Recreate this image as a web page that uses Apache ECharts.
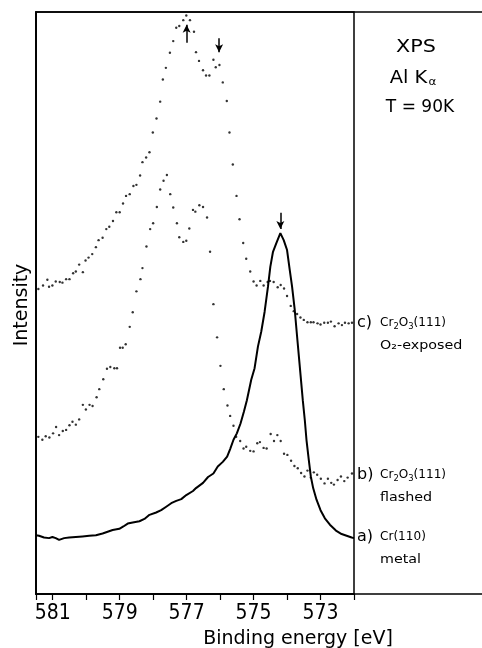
<!DOCTYPE html>
<html>
<head>
<meta charset="utf-8">
<style>
  html, body { margin: 0; padding: 0; background: #fff; }
  #chart { width: 482px; height: 648px; }
</style>
<script src="https://cdn.jsdelivr.net/npm/echarts@6/dist/echarts.min.js"></script>
</head>
<body>
<div id="chart"></div>
<script>
// Cr 2p3/2 XPS spectra: [binding energy (eV), intensity (arb. units)]
const metalCurve = [
  [581.5,10.1],[581.41,10.0],[581.26,9.7],[581.11,9.6],[581.01,9.8],[580.91,9.6],[580.81,9.3],
  [580.66,9.6],[580.51,9.7],[580.31,9.8],[580.11,9.9],[579.91,10.0],[579.71,10.1],[579.51,10.4],
  [579.36,10.7],[579.21,11.0],[579.01,11.2],[578.89,11.6],[578.76,12.1],[578.61,12.3],[578.41,12.5],
  [578.26,12.9],[578.11,13.6],[577.91,14.0],[577.76,14.4],[577.61,15.0],[577.46,15.6],[577.31,16.0],
  [577.16,16.3],[577.01,17.0],[576.81,17.7],[576.72,18.2],[576.51,19.1],[576.36,20.1],[576.20,20.7],
  [576.07,21.9],[575.92,22.7],[575.79,23.6],[575.70,24.9],[575.60,26.5],[575.50,27.6],[575.39,29.3],
  [575.29,31.3],[575.20,33.3],[575.07,36.8],[574.97,38.8],[574.87,42.5],[574.77,45.1],[574.67,48.5],
  [574.57,52.8],[574.50,56.2],[574.42,58.8],[574.32,60.3],[574.20,62.0],[574.10,60.8],[574.00,59.1],
  [573.92,55.7],[573.85,52.8],[573.77,48.8],[573.69,43.6],[573.62,39.1],[573.53,33.3],[573.47,29.9],
  [573.42,26.5],[573.35,23.0],[573.29,20.2],[573.22,18.2],[573.12,16.2],[573.00,14.4],[572.87,13.0],
  [572.72,11.9],[572.54,10.9],[572.37,10.3],[572.22,10.0],[572.07,9.7],[572.00,9.6]
];

const flashedPoints = [
  [581.43,27.0],[581.31,26.5],[581.21,27.1],[581.10,26.9],[580.99,27.6],[580.90,28.7],[580.81,27.3],
  [580.70,28.0],[580.60,28.2],[580.50,29.0],[580.41,29.6],[580.31,29.1],[580.21,30.0],[580.10,32.5],
  [580.01,31.7],[579.90,32.5],[579.81,32.3],[579.69,33.8],[579.61,35.2],[579.49,36.9],[579.38,38.7],
  [579.28,39.0],[579.16,38.8],[579.08,38.8],[578.99,42.3],[578.91,42.3],[578.82,42.9],[578.70,45.9],
  [578.61,48.4],[578.50,52.0],[578.38,54.1],[578.32,56.0],[578.20,59.7],[578.09,62.7],[578.00,63.7],
  [577.89,66.5],[577.79,69.5],[577.69,71.0],[577.59,72.0],[577.49,68.7],[577.40,66.4],[577.29,63.7],
  [577.22,61.3],[577.10,60.5],[577.01,60.7],[576.92,62.8],[576.81,66.0],[576.74,65.7],[576.62,66.8],
  [576.51,66.5],[576.39,64.7],[576.30,58.8],[576.20,49.8],[576.09,44.1],[575.99,39.2],[575.89,35.2],
  [575.78,32.4],[575.70,30.6],[575.60,28.9],[575.52,27.0],[575.40,26.3],[575.30,25.0],[575.22,25.3],
  [575.10,24.6],[575.00,24.5],[574.89,25.9],[574.81,26.1],[574.70,25.1],[574.61,25.0],[574.49,27.5],
  [574.39,26.3],[574.29,27.3],[574.19,26.3],[574.09,24.1],[573.99,23.9],[573.88,22.9],[573.78,22.0],
  [573.68,21.6],[573.58,20.8],[573.48,20.2],[573.39,21.2],[573.29,20.0],[573.20,20.9],[573.10,20.5],
  [572.99,19.8],[572.88,19.0],[572.78,19.8],[572.68,19.1],[572.60,18.8],[572.49,19.6],[572.39,20.2],
  [572.29,19.4],[572.19,20.0],[572.06,20.7]
];

const exposedPoints = [
  [581.43,52.4],[581.29,53.0],[581.16,54.0],[581.11,52.8],[581.01,53.0],[580.91,53.7],[580.79,53.6],
  [580.71,53.5],[580.60,54.1],[580.50,54.1],[580.39,55.1],[580.31,55.4],[580.21,56.6],[580.10,55.3],
  [580.02,57.3],[579.93,57.8],[579.82,58.4],[579.71,59.6],[579.63,60.8],[579.51,61.2],[579.40,62.7],
  [579.31,63.1],[579.20,64.1],[579.10,65.6],[579.00,65.6],[578.90,67.1],[578.81,68.4],[578.70,68.7],
  [578.59,70.1],[578.50,70.3],[578.39,71.9],[578.32,74.2],[578.21,75.0],[578.11,75.9],[578.01,79.3],
  [577.90,81.7],[577.79,84.6],[577.71,88.4],[577.62,90.4],[577.50,93.0],[577.40,95.0],[577.31,97.3],
  [577.22,97.6],[577.10,98.6],[577.01,99.4],[576.90,98.6],[576.78,96.6],[576.72,93.1],[576.63,91.6],
  [576.51,90.0],[576.42,89.1],[576.32,89.1],[576.20,91.8],[576.13,90.5],[576.02,90.9],[575.92,87.9],
  [575.80,84.7],[575.72,79.3],[575.62,73.8],[575.51,68.4],[575.42,64.4],[575.31,60.3],[575.22,57.6],
  [575.10,55.4],[575.00,53.7],[574.91,53.0],[574.80,53.8],[574.70,53.0],[574.58,53.6],[574.51,53.8],
  [574.40,53.6],[574.28,52.7],[574.19,53.1],[574.09,52.5],[574.00,51.2],[573.89,49.5],[573.80,48.6],
  [573.70,48.1],[573.60,47.5],[573.50,47.1],[573.39,46.7],[573.29,46.7],[573.21,46.7],[573.09,46.5],
  [573.00,46.3],[572.89,46.6],[572.78,46.6],[572.69,46.8],[572.58,46.0],[572.46,46.5],[572.36,46.2],
  [572.27,46.6],[572.16,46.5],[572.06,46.6]
];

// peak markers: energy, arrow tail intensity, arrow head intensity
const peakArrows = [
  [577.0, 94.7, 97.8],
  [576.03, 95.5, 93.1],
  [574.2, 65.5, 62.7]
];

const energyMin = 572, energyMax = 581.5;
const tickLabels = [581, 579, 577, 575, 573];

const ink = '#000';
const font = '"DejaVu Sans", sans-serif';

const chart = echarts.init(document.getElementById('chart'), null, { renderer: 'canvas' });

// "x) formula / condition" label beside the right end of a spectrum
function curveLabel(x, y, tag, name, sub1, mid, sub2, tail, line2) {
  return [
    { type: 'text', x: x, y: y, style: { text: tag, font: '16px ' + font, fill: ink, textVerticalAlign: 'middle' } },
    { type: 'text', x: x + 23, y: y, scaleX: 1.05,
      style: { text: '{n|' + name + '}{s|' + sub1 + '}{n|' + mid + '}{s|' + sub2 + '}{n|' + tail + '}',
        textVerticalAlign: 'middle',
        rich: { n: { fontSize: 11.5, fontFamily: font, color: ink },
                s: { fontSize: 8, fontFamily: font, color: ink, padding: [7, 0, 0, 0] } } } },
    { type: 'text', x: x + 23, y: y + 23, scaleX: 1.1,
      style: { text: line2, font: '13px ' + font, fill: ink, textVerticalAlign: 'middle' } }
  ];
}

const option = {
  animation: false,
  backgroundColor: '#fff',
  grid: { left: 36, right: 128, top: 12, bottom: 54, show: true, borderColor: ink, borderWidth: 1.5 },
  xAxis: {
    type: 'value', inverse: true, min: energyMin, max: energyMax, interval: 1,
    axisLine: { show: true, lineStyle: { color: ink, width: 1.5 } },
    axisTick: { show: true, length: 6, inside: false, lineStyle: { color: ink, width: 1.2 } },
    splitLine: { show: false },
    axisLabel: {
      margin: 9, color: ink, fontSize: 21,
      fontFamily: '"Liberation Sans Narrow", "DejaVu Sans Condensed", sans-serif',
      formatter: v => (tickLabels.indexOf(v) >= 0 ? String(v) : '')
    }
  },
  yAxis: {
    type: 'value', min: 0, max: 100,
    axisLine: { show: true, lineStyle: { color: ink, width: 1.5 } },
    axisTick: { show: false }, axisLabel: { show: false }, splitLine: { show: false }
  },
  series: [
    {
      type: 'line', data: metalCurve, showSymbol: false, smooth: false,
      lineStyle: { color: ink, width: 2 }, z: 3,
      markLine: {
        silent: true, animation: false, symbol: ['none', 'arrow'], symbolSize: [6, 8],
        lineStyle: { color: ink, width: 1.5, type: 'solid' }, label: { show: false },
        data: peakArrows.map(a => [{ coord: [a[0], a[1]] }, { coord: [a[0], a[2]] }])
      }
    },
    { type: 'scatter', data: flashedPoints, symbol: 'circle', symbolSize: 2.4,
      itemStyle: { color: ink }, z: 2 },
    { type: 'scatter', data: exposedPoints, symbol: 'circle', symbolSize: 2.4,
      itemStyle: { color: ink }, z: 2 }
  ],
  graphic: [
    // outer frame continuing to the right-hand annotation panel
    { type: 'rect', shape: { x: 36, y: 12, width: 470, height: 582 }, silent: true,
      style: { fill: 'none', stroke: ink, lineWidth: 1.5 } },
    { type: 'text', x: 416, y: 47, scaleX: 1.12,
      style: { text: 'XPS', font: '18.5px ' + font, fill: ink, textAlign: 'center', textVerticalAlign: 'middle' } },
    { type: 'text', x: 413, y: 78, scaleX: 1.08,
      style: { text: '{n|Al K}{s|α}', textAlign: 'center', textVerticalAlign: 'middle',
        rich: { n: { fontSize: 18, fontFamily: font, color: ink }, s: { fontSize: 11, fontFamily: font, color: ink, padding: [9, 0, 0, 1] } } } },
    { type: 'text', x: 420, y: 107, scaleX: 0.92,
      style: { text: 'T = 90K', font: '18.5px ' + font, fill: ink, textAlign: 'center', textVerticalAlign: 'middle' } },
    ...curveLabel(357, 323, 'c)', 'Cr', '2', 'O', '3', '(111)', 'O₂-exposed'),
    ...curveLabel(357, 475, 'b)', 'Cr', '2', 'O', '3', '(111)', 'flashed'),
    ...curveLabel(357, 537, 'a)', 'Cr(110)', '', '', '', '', 'metal'),
    { type: 'text', x: 298, y: 639, style: { text: 'Binding energy [eV]', font: '19px ' + font, fill: ink, textAlign: 'center', textVerticalAlign: 'middle' } },
    { type: 'text', x: 22, y: 305, rotation: Math.PI / 2,
      style: { text: 'Intensity', font: '19px ' + font, fill: ink, textAlign: 'center', textVerticalAlign: 'middle' } }
  ]
};

chart.setOption(option);
</script>
</body>
</html>
